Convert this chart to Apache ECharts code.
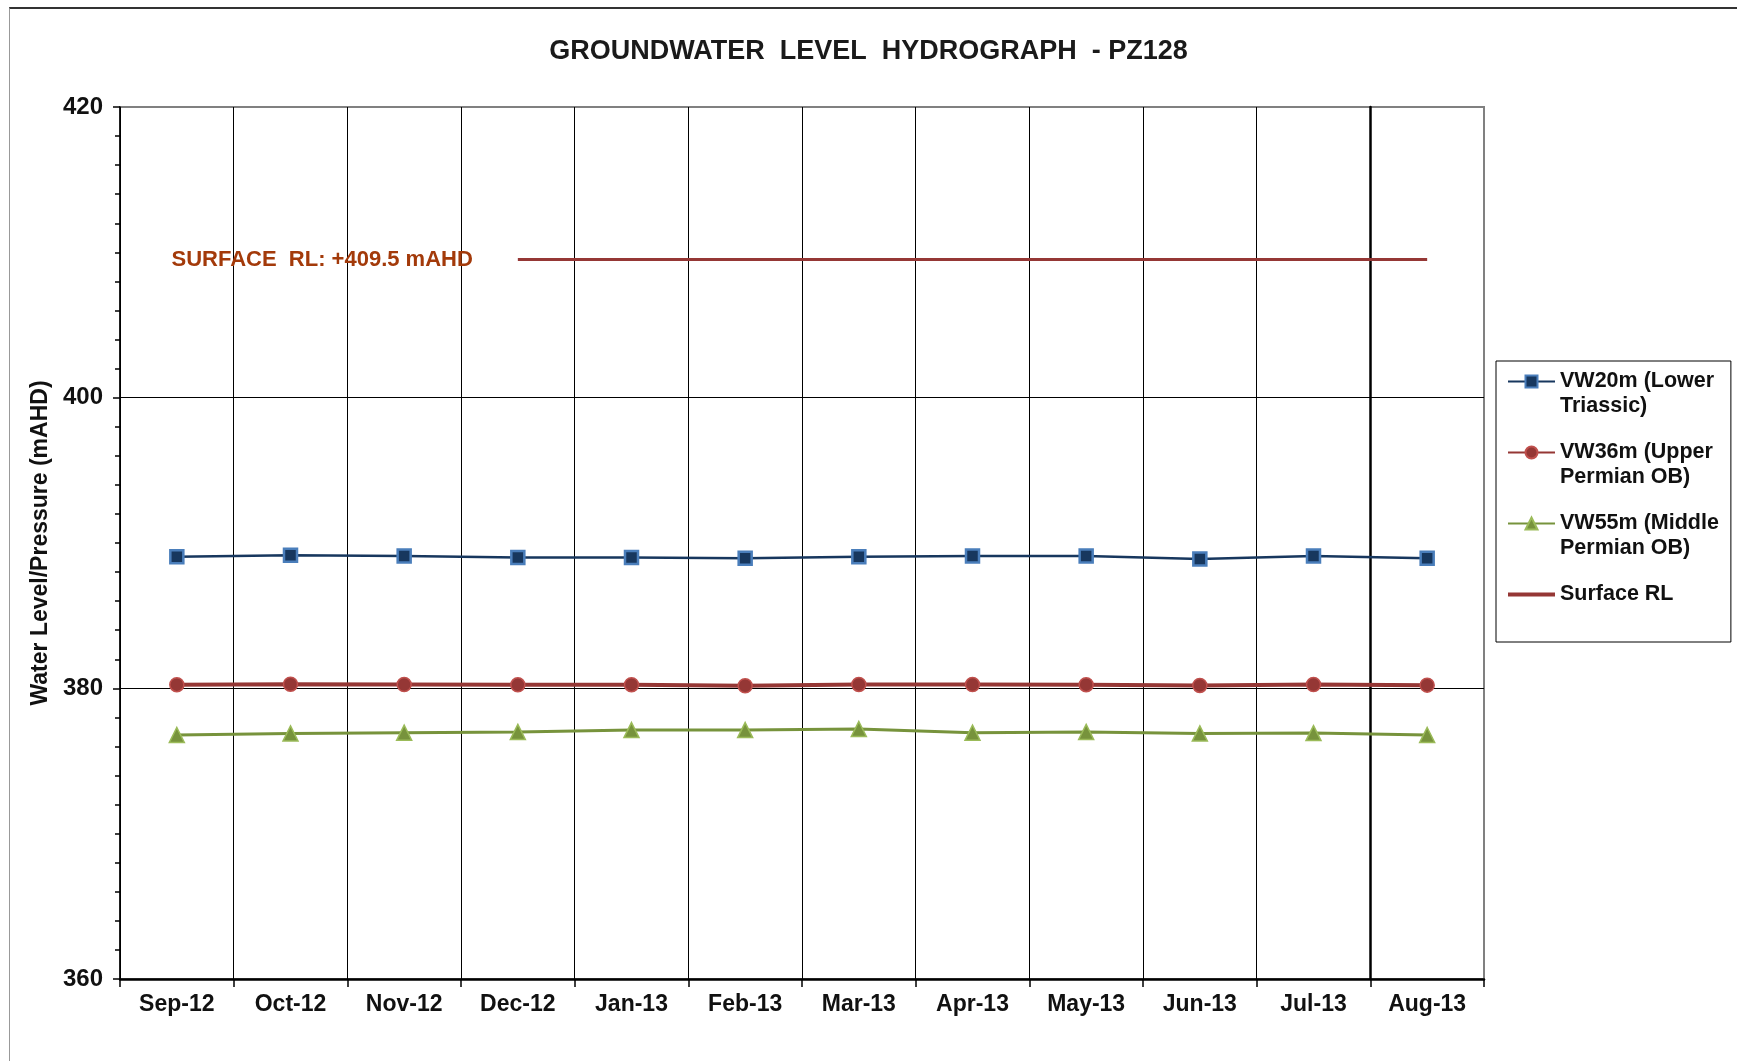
<!DOCTYPE html>
<html>
<head>
<meta charset="utf-8">
<title>Groundwater Level Hydrograph - PZ128</title>
<script src="https://cdn.jsdelivr.net/npm/echarts@6/dist/echarts.min.js"></script>
<style>
    html, body { margin: 0; padding: 0; background: #fff; }
    #frame { position: absolute; left: 9px; top: 7px; right: 0; bottom: 0; border-top: 2px solid #333; border-left: 1px solid #999; }
    #chartContainer { position: absolute; left: 0; top: 0; width: 1737px; height: 1061px; }
</style>
</head>
<body>
<div id="frame"></div>
<div id="chartContainer"></div>
<script>
const months = ['Sep-12', 'Oct-12', 'Nov-12', 'Dec-12', 'Jan-13', 'Feb-13', 'Mar-13', 'Apr-13', 'May-13', 'Jun-13', 'Jul-13', 'Aug-13'];
const vw20 = [389.05, 389.15, 389.1, 389.0, 389.0, 388.95, 389.05, 389.1, 389.1, 388.9, 389.1, 388.95];
const vw36 = [380.25, 380.28, 380.26, 380.24, 380.25, 380.18, 380.27, 380.26, 380.25, 380.2, 380.26, 380.22];
const vw55 = [376.79, 376.9, 376.95, 377.0, 377.13, 377.13, 377.2, 376.95, 377.0, 376.9, 376.92, 376.79];
const surfaceRL = [null, null, null, 409.5, 409.5, 409.5, 409.5, 409.5, 409.5, 409.5, 409.5, 409.5];
const seriesNames = ['VW20m (Lower Triassic)', 'VW36m (Upper Permian OB)', 'VW55m (Middle Permian OB)', 'Surface RL'];
// leading blank line keeps the icon level with the first text line
const legendLabels = ['\nVW20m (Lower\nTriassic)', '\nVW36m (Upper\nPermian OB)', '\nVW55m (Middle\nPermian OB)', '\nSurface RL\n'];
const surfaceText = 'SURFACE  RL: +409.5 mAHD';

const FONT = '"Liberation Sans", Arial, sans-serif';
const gridLeft = 120, gridRight = 253;
const gridWidth = 1737 - gridLeft - gridRight;

// first point of the surface line, used to hang the annotation
const surfaceStart = surfaceRL.findIndex(v => v !== null);

const chart = echarts.init(document.getElementById('chartContainer'));

const vLineColors = months.map(() => '#000').concat(['#808080']);

chart.setOption({
    backgroundColor: 'transparent',
    animation: false,
    title: {
        text: 'GROUNDWATER  LEVEL  HYDROGRAPH  - PZ128',
        left: 'center',
        top: 33,
        textStyle: { fontFamily: FONT, fontSize: 27, fontWeight: 'bold', color: '#1a1a1a' }
    },
    grid: {
        left: gridLeft,
        right: gridRight,
        top: 107,
        bottom: 82,
        show: true,
        borderColor: '#808080',
        borderWidth: 2
    },
    legend: {
        orient: 'vertical',
        left: 1496,
        top: 361,
        padding: [-17, 12, 10, 11],
        itemGap: -4,
        itemWidth: 47,
        itemHeight: 15,
        backgroundColor: '#fff',
        borderColor: '#000',
        borderWidth: 1,
        textStyle: { fontFamily: FONT, fontSize: 21.5, fontWeight: 'bold', color: '#111', lineHeight: 25 },
        formatter: name => legendLabels[seriesNames.indexOf(name)],
        data: [
            { name: seriesNames[0] },
            { name: seriesNames[1] },
            { name: seriesNames[2] },
            { name: seriesNames[3], icon: 'path://M0,0H50V4H0Z' }
        ]
    },
    xAxis: {
        type: 'category',
        data: months,
        boundaryGap: true,
        axisLine: { lineStyle: { color: '#000', width: 2.5 } },
        axisTick: { show: true, interval: 0, length: 8, lineStyle: { color: '#000', width: 1.5 } },
        axisLabel: { interval: 0, margin: 14, fontFamily: FONT, fontSize: 23, fontWeight: 'bold', color: '#111' },
        splitLine: { show: true, interval: 0, lineStyle: { color: vLineColors, width: 1 } }
    },
    yAxis: [
        {
            type: 'value',
            min: 360,
            max: 420,
            interval: 20,
            name: 'Water Level/Pressure (mAHD)',
            nameLocation: 'middle',
            nameGap: 66,
            nameRotate: 90,
            nameTextStyle: { fontFamily: FONT, fontSize: 23, fontWeight: 'bold', color: '#111' },
            axisLine: { show: true, lineStyle: { color: '#000', width: 1.5 } },
            axisTick: { show: true, length: 7, lineStyle: { color: '#000', width: 1.5 } },
            minorTick: { show: true, splitNumber: 10, length: 5, lineStyle: { color: '#000', width: 1.5 } },
            axisLabel: { margin: 17, fontFamily: FONT, fontSize: 24, fontWeight: 'bold', color: '#111' },
            splitLine: { show: true, lineStyle: { color: ['#000', '#000', '#000', '#808080'], width: 1 } }
        },
        {
            // dark divider between Jul-13 and Aug-13
            type: 'value',
            min: 360,
            max: 420,
            position: 'right',
            offset: -gridWidth / months.length,
            axisLine: { show: true, lineStyle: { color: '#000', width: 2.5 } },
            axisTick: { show: false },
            axisLabel: { show: false },
            splitLine: { show: false }
        }
    ],
    series: [
        {
            name: seriesNames[0],
            type: 'line',
            data: vw20,
            symbol: 'rect',
            symbolSize: 13,
            itemStyle: { color: '#17375E', borderColor: '#4A7EBB', borderWidth: 2.5 },
            lineStyle: { color: '#17375E', width: 2.5 },
            z: 5
        },
        {
            name: seriesNames[1],
            type: 'line',
            data: vw36,
            symbol: 'circle',
            symbolSize: 14,
            itemStyle: { color: '#953735', borderColor: '#C0504D', borderWidth: 1.5 },
            lineStyle: { color: '#953735', width: 4 },
            z: 5
        },
        {
            name: seriesNames[2],
            type: 'line',
            data: vw55,
            symbol: 'triangle',
            symbolSize: 15,
            itemStyle: { color: '#77933C', borderColor: '#9BBB59', borderWidth: 1.5 },
            lineStyle: { color: '#77933C', width: 3 },
            z: 5
        },
        {
            name: seriesNames[3],
            type: 'line',
            data: surfaceRL,
            symbol: 'none',
            itemStyle: { color: '#953735' },
            lineStyle: { color: '#953735', width: 3 },
            z: 4,
            markPoint: {
                symbol: 'circle',
                symbolSize: 0,
                data: [{ coord: [months[surfaceStart], surfaceRL[surfaceStart]] }],
                label: {
                    show: true,
                    position: 'left',
                    distance: 45,
                    formatter: surfaceText,
                    fontFamily: FONT,
                    fontSize: 22,
                    fontWeight: 'bold',
                    color: '#A33A0A'
                }
            }
        }
    ]
});
</script>
</body>
</html>
